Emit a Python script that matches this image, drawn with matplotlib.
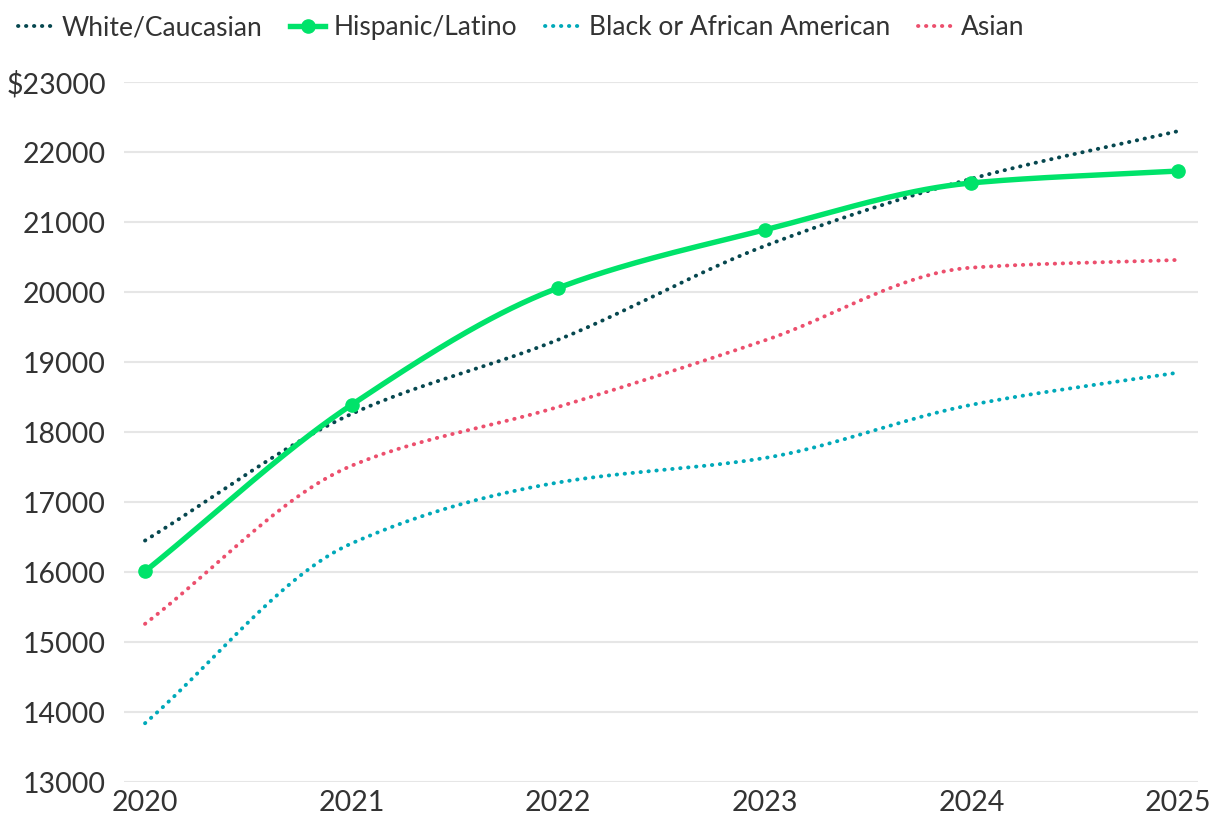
import numpy as np
import matplotlib
matplotlib.use("Agg")
import matplotlib.pyplot as plt
from matplotlib.ticker import FuncFormatter

plt.rcParams["font.family"] = ["Lato", "DejaVu Sans"]

years = [2020, 2021, 2022, 2023, 2024, 2025]
white = [16450, 18260, 19320, 20660, 21620, 22300]
hispanic = [16010, 18390, 20060, 20890, 21560, 21730]
black = [13840, 16410, 17280, 17630, 18390, 18850]
asian = [15260, 17520, 18360, 19310, 20350, 20460]

series_names = ["White/Caucasian", "Hispanic/Latino", "Black or African American", "Asian"]
colors = ["#06474f", "#00e36a", "#00a9b9", "#ec4f6d"]
text_color = "#333333"


def smooth(x, y, n=300):
    # monotone cubic (Fritsch-Carlson) for the curve shape
    x = np.asarray(x, float)
    y = np.asarray(y, float)
    h = np.diff(x)
    d = np.diff(y) / h
    m = np.zeros_like(y)
    m[0] = d[0]
    m[-1] = d[-1]
    for i in range(1, len(y) - 1):
        if d[i - 1] * d[i] <= 0:
            m[i] = 0
        else:
            w1 = 2 * h[i] + h[i - 1]
            w2 = h[i] + 2 * h[i - 1]
            m[i] = (w1 + w2) / (w1 / d[i - 1] + w2 / d[i])
    xs = np.linspace(x[0], x[-1], n)
    idx = np.clip(np.searchsorted(x, xs) - 1, 0, len(x) - 2)
    t = (xs - x[idx]) / h[idx]
    h00 = 2 * t**3 - 3 * t**2 + 1
    h10 = t**3 - 2 * t**2 + t
    h01 = -2 * t**3 + 3 * t**2
    h11 = t**3 - t**2
    ys = h00 * y[idx] + h10 * h[idx] * m[idx] + h01 * y[idx + 1] + h11 * h[idx] * m[idx + 1]
    return xs, ys


fig = plt.figure(figsize=(12.2, 8.3), dpi=100)
ax = fig.add_axes([0.1016, 0.0578, 0.8804, 0.8432])

dotted = (0, (0.1, 1.95))
handles = []
for name, vals, col in zip(series_names, [white, hispanic, black, asian], colors):
    xs, ys = smooth(years, vals)
    if name == "Hispanic/Latino":
        ax.plot(xs, ys, color=col, lw=3.9, solid_capstyle="round", zorder=4)
        ax.plot(years, vals, "o", color=col, ms=9.5, zorder=5)
        h, = ax.plot([], [], color=col, lw=3.9, marker="o", ms=9.5)
    else:
        ax.plot(xs, ys, color=col, lw=2.8, linestyle=dotted, dash_capstyle="round", zorder=3)
        h, = ax.plot([], [], color=col, lw=2.8, linestyle=dotted, dash_capstyle="round")
    handles.append(h)

ax.set_xlim(2019.898, 2025.097)
ax.set_ylim(13000, 23000)
ax.set_xticks(years)
ax.set_yticks(np.arange(13000, 23001, 1000))
ax.yaxis.set_major_formatter(FuncFormatter(lambda v, p: f"${v:.0f}" if v == 23000 else f"{v:.0f}"))
ax.grid(axis="y", color="#e6e6e6", lw=1.5)
ax.set_axisbelow(True)
for s in ax.spines.values():
    s.set_visible(False)
ax.tick_params(length=0, labelsize=20.5, colors=text_color, pad=13)
ax.tick_params(axis="x", pad=6)

fig.legend(handles, series_names, loc="upper left", bbox_to_anchor=(0.0, 1.004), ncol=4,
           frameon=False, fontsize=19, handlelength=1.3, handletextpad=0.35,
           columnspacing=1.05, labelcolor=text_color, borderaxespad=0.3)

fig.savefig("out.png", dpi=100)
